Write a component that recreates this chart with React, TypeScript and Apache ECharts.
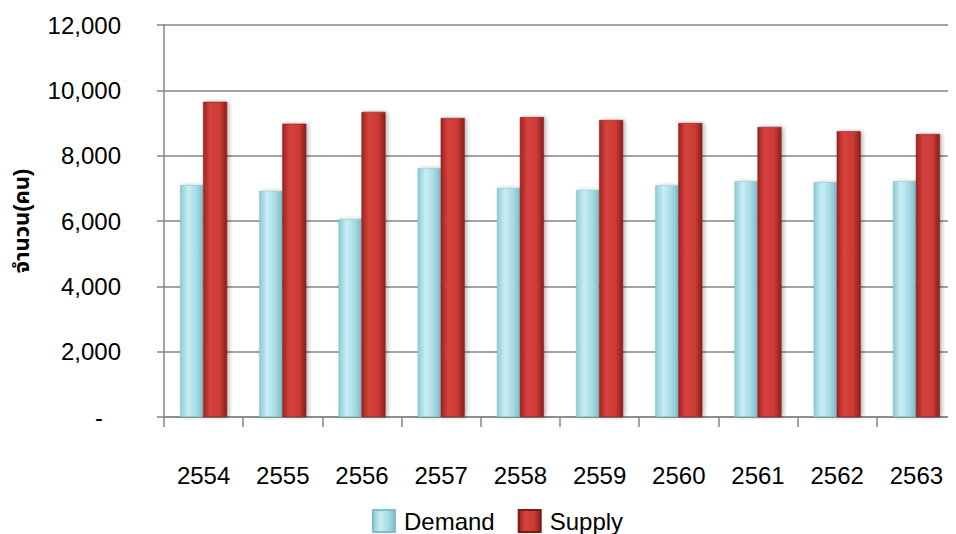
import React, { useEffect, useRef } from "react";
import * as echarts from "echarts";

const categories = ["2554", "2555", "2556", "2557", "2558", "2559", "2560", "2561", "2562", "2563"];
const demand = [7100, 6920, 6060, 7620, 7010, 6950, 7090, 7220, 7190, 7220];
const supply = [9650, 8980, 9340, 9150, 9180, 9090, 9000, 8880, 8750, 8660];
const yTicks = [0, 2000, 4000, 6000, 8000, 10000, 12000];

const FONT = "'Liberation Sans', Arial, 'Noto Sans Thai', sans-serif";

export default function App() {
  const ref = useRef<HTMLDivElement>(null);
  useEffect(() => {
    if (!ref.current) return;
    const chart = echarts.init(ref.current, null, { renderer: "svg" });
    const demandColor = new echarts.graphic.LinearGradient(0, 0, 1, 0, [
      { offset: 0, color: "#8fcbd6" },
      { offset: 0.35, color: "#c9eef4" },
      { offset: 0.7, color: "#a7dbe4" },
      { offset: 1, color: "#7fbfcb" },
    ]);
    const supplyColor = new echarts.graphic.LinearGradient(0, 0, 1, 0, [
      { offset: 0, color: "#9e2420" },
      { offset: 0.3, color: "#d6423d" },
      { offset: 0.7, color: "#cc3a35" },
      { offset: 1, color: "#8c1e1b" },
    ]);
    chart.setOption({
      animation: false,
      textStyle: { fontFamily: FONT },
      grid: { left: 164, top: 25, bottom: 117, right: -10, containLabel: false },
      legend: {
        top: 509,
        left: 372,
        itemWidth: 22,
        itemHeight: 22,
        itemGap: 23,
        padding: 0,
        icon: "rect",
        textStyle: { fontSize: 24, color: "#000", fontFamily: FONT, padding: [0, 0, 0, 4] },
        data: ["Demand", "Supply"],
      },
      xAxis: {
        type: "category",
        data: categories,
        axisLine: { lineStyle: { color: "#868686", width: 1.5 } },
        axisTick: { show: true, length: 10, lineStyle: { color: "#868686", width: 1.5 } },
        axisLabel: { fontSize: 24, color: "#000", margin: 46, fontFamily: FONT },
      },
      yAxis: {
        type: "value",
        min: yTicks[0],
        max: yTicks[yTicks.length - 1],
        interval: 2000,
        name: "จำนวน(คน)",
        nameLocation: "middle",
        nameGap: 132,
        nameTextStyle: { fontSize: 22, fontWeight: "bold", color: "#000", fontFamily: FONT },
        axisLine: { show: true, lineStyle: { color: "#868686", width: 1.5 } },
        axisTick: { show: true, length: 7, lineStyle: { color: "#868686", width: 1.5 } },
        axisLabel: {
          fontSize: 24,
          color: "#000",
          margin: 43,
          fontFamily: FONT,
          formatter: (v: number) => (v === 0 ? "{z|-}" : v.toLocaleString("en-US")),
          rich: { z: { fontSize: 24, color: "#000", padding: [0, 18, 0, 0] } },
        },
        splitLine: { lineStyle: { color: "#868686", width: 1.5 } },
      },
      series: [
        {
          name: "Demand",
          type: "bar",
          data: demand,
          barWidth: 23,
          barGap: "0%",
          itemStyle: {
            color: demandColor,
            borderColor: "#7fbfcb",
            borderWidth: 0.5,
            shadowColor: "rgba(0,0,0,0.25)",
            shadowBlur: 4,
            shadowOffsetX: 2,
          },
        },
        {
          name: "Supply",
          type: "bar",
          data: supply,
          barWidth: 24,
          barGap: "0%",
          itemStyle: {
            color: supplyColor,
            borderColor: "#7a1a17",
            borderWidth: 0.5,
            shadowColor: "rgba(0,0,0,0.3)",
            shadowBlur: 4,
            shadowOffsetX: 2,
          },
        },
      ],
    });
    return () => chart.dispose();
  }, []);
  return <div ref={ref} style={{ width: 956, height: 534, margin: "-8px 0 0 -8px" }} />;
}
